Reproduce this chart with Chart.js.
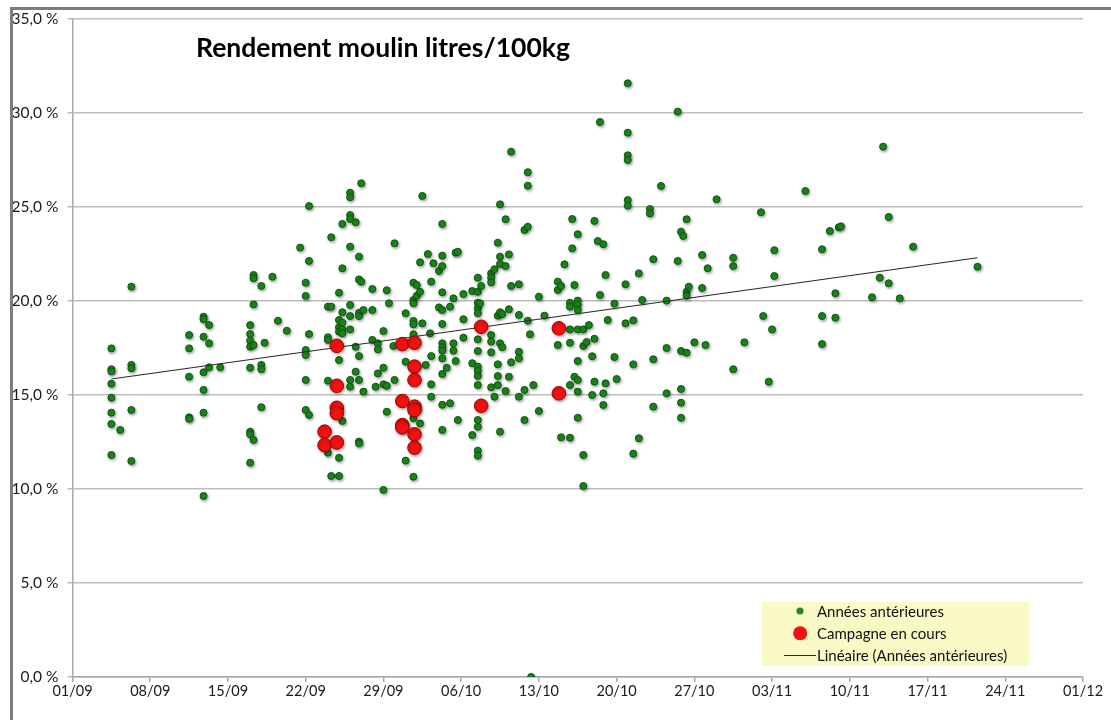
<!DOCTYPE html>
<html>
<head>
<meta charset="utf-8">
<script src="https://cdn.jsdelivr.net/npm/chart.js@4/dist/chart.umd.min.js"></script>
<style>
  html, body { margin: 0; padding: 0; background: #fff; }
  #wrap { position: relative; width: 1111px; height: 720px; overflow: hidden; }
  #frame { position: absolute; left: 10px; top: 7px; right: 0; bottom: 0;
           border-left: 3px solid #7d7d7d; border-top: 3px solid #7d7d7d; pointer-events: none; }
  #title { position: absolute; left: 196px; top: 31px; font: bold 26.5px Lato, sans-serif; color: #000; }
  #legend { position: absolute; left: 762px; top: 602px; width: 267px; height: 64px;
            background: #f9f9c6; font: 15px Lato, sans-serif; color: #111; }
  #legend .row { position: absolute; left: 0; height: 20px; display: flex; align-items: center; white-space: nowrap; }
  #legend .mark { width: 55px; height: 20px; position: relative; }
  #legend .dot { position: absolute; top: 50%; border-radius: 50%; transform: translate(-50%, -50%); }
  #legend .line { position: absolute; top: 50%; left: 22px; width: 32px; height: 0; border-top: 1px solid #222; }
</style>
</head>
<body>
<div id="wrap">
  <canvas id="myChart" width="1111" height="720"></canvas>
  <div id="frame"></div>
  <div id="title">Rendement moulin litres/100kg</div>
  <div id="legend"></div>
</div>
<script>
// days counted from 01/09, yield in % (litres / 100 kg)
const pastYears = [
  [3.5,17.48],[3.5,16.37],[3.5,16.26],[3.5,15.6],[3.5,14.86],[3.5,14.06],[3.5,13.46],[3.5,11.81],
  [4.3,13.14],
  [5.3,20.76],[5.3,16.6],[5.3,16.42],[5.3,14.2],[5.3,11.49],
  [10.5,18.19],[10.5,17.48],[10.5,15.97],[10.5,13.81],[10.5,13.74],
  [11.8,19.16],[11.8,19.03],[11.8,18.1],[11.8,16.21],[11.8,15.27],[11.8,14.06],[11.8,9.63],
  [12.3,18.72],[12.3,17.75],[12.3,16.47],
  [13.3,16.47],
  [16,18.72],[16,18.24],[16,17.89],[16,17.57],[16,16.45],[16,13.05],[16,12.91],[16,11.4],
  [16.3,21.38],[16.3,21.21],[16.3,19.82],[16.3,17.66],[16.3,12.61],
  [17,20.8],[17,16.6],[17,16.37],[17,14.35],
  [17.3,17.78],
  [18,21.29],
  [18.5,18.95],[19.3,18.42],[20.5,22.84],
  [21,20.97],[21,20.27],[21,17.39],[21,17.13],[21,15.8],[21,14.2],
  [21.3,25.05],[21.3,22.13],[21.3,18.24],[21.3,13.94],
  [23,19.7],[23,18.07],[23,17.93],[23,15.76],[23,11.93],
  [23.3,23.39],[23.3,19.7],[23.3,10.69],
  [24,20.44],[24,18.99],[24,18.6],[24,18.37],[24,16.86],[24,11.66],[24,10.69],
  [24.3,24.1],[24.3,21.74],[24.3,19.4],[24.3,18.85],[24.3,18.49],[24.3,18.28],[24.3,13.62],
  [25,25.76],[25,25.52],[25,24.57],[25,24.36],[25,22.89],[25,19.79],[25,19.2],[25,18.49],[25,15.8],[25,15.44],
  [25.5,24.19],[25.5,17.57],[25.5,16.24],
  [25.8,22.36],[25.8,21.15],[25.8,19.38],[25.8,19.2],[25.8,17.07],[25.8,15.8],[25.8,12.52],[25.8,12.43],
  [26,26.26],[26,21.03],
  [26.2,19.52],[26.2,15.18],
  [27,20.64],[27,19.52],[27,17.93],
  [27.3,15.44],
  [27.5,17.75],[27.5,17.43],[27.5,16.15],
  [28,18.4],[28,16.45],[28,15.57],[28,9.95],
  [28.3,20.57],[28.3,15.49],[28.3,14.11],
  [28.5,19.88],[28.9,17.61],
  [29,23.07],[29,15.8],
  [30,19.35],[30,16.77],[30,11.51],
  [30.7,20.97],[30.7,20.05],[30.7,19.88],[30.7,18.94],[30.7,18.76],[30.7,18.23],[30.7,13.76],[30.7,10.65],
  [31,20.85],[31,20.28],
  [31.3,22.06],[31.3,20.49],[31.3,13.49],
  [31.5,25.59],[31.5,18.81],
  [31.8,16.6],[32,22.5],
  [32.2,18.28],
  [32.3,21.03],[32.3,17.07],[32.3,15.57],[32.3,14.91],
  [32.5,22.01],
  [33,21.6],[33,19.66],
  [33.3,24.1],[33.3,22.41],[33.3,21.86],[33.3,20.46],[33.3,19.52],[33.3,18.78],[33.3,17.75],[33.3,17.54],
  [33.3,17.36],[33.3,16.95],[33.3,16.12],[33.3,14.48],[33.3,13.14],
  [33.7,16.45],
  [34,19.7],[34,14.56],
  [34.3,20.14],[34.3,17.75],[34.3,17.36],
  [34.5,22.57],[34.5,16.81],
  [34.7,22.62],[34.7,13.67],
  [35.2,20.37],[35.2,19.03],[35.2,18.05],
  [36,20.53],[36,16.69],[36,12.87],
  [36.5,21.24],[36.5,20.49],[36.5,19.91],[36.5,19.61],[36.5,19.35],[36.5,17.96],[36.5,17.34],[36.5,16.51],
  [36.5,16.28],[36.5,16.01],[36.5,15.53],[36.5,13.67],[36.5,13.31],[36.5,12.04],[36.5,11.77],
  [36.7,19.88],[36.8,20.8],
  [37.7,21.47],[37.7,21.24],[37.7,20.99],[37.7,18.19],[37.7,17.84],[37.7,17.27],[37.7,15.41],
  [38,21.69],[38,14.91],
  [38.3,23.1],[38.3,19.22],[38.3,16.63],[38.3,16.01],[38.3,15.53],
  [38.5,25.14],[38.5,22.36],[38.5,21.97],[38.5,19.4],[38.5,17.75],[38.5,13.05],
  [38.7,19.31],[38.7,17.54],
  [39,24.35],[39,21.86],[39,15.21],
  [39.3,22.48],[39.3,19.56],[39.3,15.97],
  [39.5,27.94],[39.5,20.8],[39.5,16.74],
  [40.2,20.89],[40.2,19.26],[40.2,17.3],[40.2,16.95],[40.2,14.91],
  [40.7,23.78],[40.7,15.27],[40.7,13.67],
  [41,26.85],[41,26.13],[41,23.95],[41,18.95],
  [41.2,18.23],[41.3,0],[41.5,15.53],
  [42,20.23],[42,14.15],[42.5,19.22],
  [43.7,21.03],[43.7,20.59],[43.7,17.66],
  [44,20.8],[44,12.75],[44.3,21.95],
  [44.8,19.91],[44.8,19.7],[44.8,18.49],[44.8,17.78],[44.8,15.53],[44.8,12.73],
  [45,24.36],[45,22.8],
  [45.2,20.85],[45.2,15.97],
  [45.5,23.55],[45.5,20.02],[45.5,19.79],[45.5,19.52],[45.5,18.49],[45.5,16.81],[45.5,15.8],[45.5,15.18],[45.5,13.79],
  [46,18.49],[46,17.61],[46,11.81],[46,10.16],
  [46.3,17.82],[46.5,18.72],
  [46.8,17.06],[46.8,15],
  [47,24.26],[47,17.99],[47,15.71],
  [47.3,23.19],
  [47.5,29.52],[47.5,20.32],
  [47.8,23.02],[47.8,15.09],[47.8,14.47],
  [48,21.38],[48,15.62],[48.2,18.99],
  [48.8,19.86],[48.8,17.02],
  [49,15.85],
  [49.8,20.89],[49.8,18.81],
  [50,31.58],[50,28.95],[50,27.75],[50,27.5],[50,25.37],[50,25.07],
  [50.5,18.97],[50.5,16.63],[50.5,11.88],
  [51,21.47],[51,12.7],[51.3,20.05],
  [52,24.89],[52,24.66],
  [52.3,22.22],[52.3,16.9],[52.3,14.38],
  [53,26.12],
  [53.5,20.02],[53.5,17.5],[53.5,15.09],
  [54.5,30.07],[54.5,22.13],
  [54.8,23.69],[54.8,17.34],[54.8,15.32],[54.8,14.59],[54.8,13.79],
  [55,23.46],
  [55.3,24.35],[55.3,20.49],[55.3,20.28],[55.3,17.25],
  [55.5,20.76],[56,17.8],
  [56.7,22.45],[56.7,20.69],
  [57,17.66],[57.2,21.74],[58,25.41],
  [59.5,22.3],[59.5,21.86],[59.5,16.37],
  [60.5,17.8],[62,24.72],[62.2,19.2],[62.7,15.71],[63,18.49],[63.2,22.7],[63.2,21.33],
  [66,25.85],[67.5,22.75],[67.5,19.2],[67.5,17.71],[68.2,23.72],[68.7,20.41],[68.7,19.11],
  [69,23.92],[69.2,23.97],[72,20.2],[72.7,21.24],[73,28.21],[73.5,24.47],[73.5,20.94],
  [74.5,20.14],[75.7,22.89],[81.5,21.82]
];

const currentCampaign = [
  [22.7,13.05],[22.7,12.34],
  [23.8,17.62],[23.8,15.49],[23.8,14.32],[23.8,14.03],[23.8,12.48],
  [29.7,17.71],[29.7,14.68],[29.7,13.4],[29.7,13.28],
  [30.8,17.78],[30.8,16.51],[30.8,15.8],[30.8,14.38],[30.8,14.2],[30.8,12.91],[30.8,12.2],
  [36.8,18.63],[36.8,14.43],
  [43.8,18.55],[43.8,15.09]
];

// trend line (Linéaire) ends
const trendLine = [[3.5,15.85],[81.5,22.3]];

const yMin = 0, yMax = 35, yStep = 5;
const xMin = 0, xMax = 91, xStep = 7;   // 01/09 .. 01/12, weekly

const seasonStart = Date.UTC(2021, 8, 1);

function toXY(list) {
  return list.map(p => ({ x: p[0], y: p[1] }));
}

function dayLabel(d) {
  const t = new Date(seasonStart + d * 86400000);
  const dd = String(t.getUTCDate()).padStart(2, "0");
  const mm = String(t.getUTCMonth() + 1).padStart(2, "0");
  return dd + "/" + mm;
}

const shadowPlugin = {
  id: "pointShadow",
  beforeDatasetDraw(chart, args) {
    const ctx = chart.ctx;
    ctx.save();
    if (args.meta.type === "scatter") {
      ctx.shadowColor = "rgba(0,0,0,0.35)";
      ctx.shadowBlur = 3;
      ctx.shadowOffsetX = 1;
      ctx.shadowOffsetY = 1.5;
    }
  },
  afterDatasetDraw(chart) {
    chart.ctx.restore();
  }
};

Chart.defaults.font.family = "Lato, sans-serif";
Chart.defaults.font.size = 14.5;
Chart.defaults.color = "#1a1a1a";

const ctx = document.getElementById("myChart").getContext("2d");
const myChart = new Chart(ctx, {
  type: "scatter",
  data: {
    datasets: [
      {
        label: "Années antérieures",
        data: toXY(pastYears),
        pointRadius: 3.5,
        pointHoverRadius: 3.5,
        backgroundColor: "#1c8c1c",
        borderColor: "#0d560d",
        borderWidth: 1,
        order: 2
      },
      {
        label: "Campagne en cours",
        data: toXY(currentCampaign),
        pointRadius: 6.8,
        pointHoverRadius: 6.8,
        backgroundColor: "#f21212",
        borderColor: "#a30000",
        borderWidth: 1,
        order: 0
      },
      {
        type: "line",
        label: "Linéaire (Années antérieures)",
        data: toXY(trendLine),
        borderColor: "#2a2a2a",
        borderWidth: 1.2,
        pointRadius: 0,
        fill: false,
        order: 1
      }
    ]
  },
  options: {
    responsive: false,
    animation: false,
    layout: { padding: { top: 19, right: 28, bottom: 0, left: 0 } },
    plugins: {
      legend: { display: false },
      tooltip: { enabled: false }
    },
    scales: {
      x: {
        type: "linear",
        min: xMin,
        max: xMax,
        afterFit(scale) { scale.height = 43; },
        ticks: {
          stepSize: xStep,
          padding: 1,
          maxRotation: 0,
          autoSkip: false,
          callback: v => dayLabel(v)
        },
        grid: {
          drawOnChartArea: false,
          tickLength: 5,
          color: "#a8a8a8",
          lineWidth: 1.5
        },
        border: { color: "#a8a8a8", width: 1.5 }
      },
      y: {
        min: yMin,
        max: yMax,
        afterFit(scale) { scale.width = 72.5; },
        ticks: {
          stepSize: yStep,
          padding: 9,
          font: { size: 15.5 },
          callback: v => v.toFixed(1).replace(".", ",") + " %"
        },
        grid: {
          color: "#bdbdbd",
          lineWidth: 1.5,
          tickLength: 5
        },
        border: { color: "#a8a8a8", width: 1.5 }
      }
    }
  },
  plugins: [shadowPlugin]
});

// legend box drawn as html, from the chart's own datasets
const legendBox = document.getElementById("legend");
const rowTops = [-1, 21, 43];
myChart.data.datasets.forEach((ds, i) => {
  const row = document.createElement("div");
  row.className = "row";
  row.style.top = rowTops[i] + "px";
  const mark = document.createElement("div");
  mark.className = "mark";
  if (ds.type === "line") {
    const ln = document.createElement("div");
    ln.className = "line";
    ln.style.borderTopColor = ds.borderColor;
    mark.appendChild(ln);
  } else {
    const dot = document.createElement("div");
    dot.className = "dot";
    const r = ds.pointRadius;
    dot.style.left = "38px";
    dot.style.width = (r * 2) + "px";
    dot.style.height = (r * 2) + "px";
    dot.style.background = ds.backgroundColor;
    mark.appendChild(dot);
  }
  const txt = document.createElement("span");
  txt.textContent = ds.label;
  row.appendChild(mark);
  row.appendChild(txt);
  legendBox.appendChild(row);
});
</script>
</body>
</html>
